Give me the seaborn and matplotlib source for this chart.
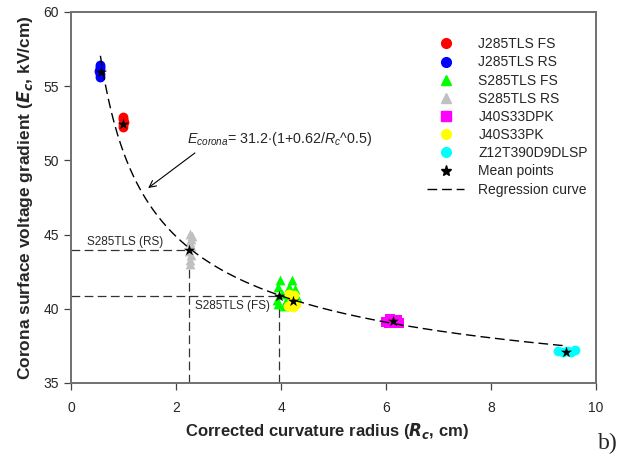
import numpy as np
import pandas as pd
import matplotlib
matplotlib.use("Agg")
import matplotlib.pyplot as plt
from matplotlib.lines import Line2D
import seaborn as sns

# Measured corona inception gradients per conductor sample
blue_x = [0.55, 0.56, 0.54, 0.55, 0.56, 0.55]
blue_y = [55.65, 55.85, 56.0, 56.15, 56.3, 56.45]
red_x = [0.99, 0.99, 1.00, 0.99, 0.99]
red_y = [52.25, 52.42, 52.6, 52.78, 52.95]
grey_x = [2.27, 2.26, 2.28, 2.25, 2.29, 2.27, 2.28, 2.30, 2.27]
grey_y = [43.0, 43.3, 43.6, 43.9, 44.2, 44.5, 44.7, 44.9, 45.05]
green_x = [3.98, 4.21, 3.95, 4.02, 3.92, 3.95, 4.15, 4.27, 4.10, 4.30, 4.05]
green_y = [41.95, 41.95, 41.5, 41.0, 40.6, 40.3, 41.5, 41.3, 40.5, 40.8, 40.2]
magenta_x = [6.00, 6.08, 6.14, 6.24, 6.20, 6.05]
magenta_y = [39.10, 39.30, 39.20, 39.05, 39.22, 39.02]
yellow_x = [4.15, 4.25, 4.20, 4.28, 4.13, 4.22]
yellow_y = [41.00, 40.90, 40.50, 40.30, 40.20, 40.10]
cyan_x = [9.28, 9.37, 9.45, 9.52, 9.60]
cyan_y = [37.15, 37.10, 37.18, 37.10, 37.20]

series_names = ["J285TLS FS", "J285TLS RS", "S285TLS FS", "S285TLS RS",
                "J40S33DPK", "J40S33PK", "Z12T390D9DLSP"]
series_colors = ["#ff0000", "#0000ff", "#00ff00", "#c0c0c0",
                 "#ff00ff", "#ffff00", "#00ffff"]
series_markers = ["o", "o", "^", "^", "s", "o", "o"]

# Mean point of each sample group
mean_x = [0.57, 0.99, 2.25, 3.96, 4.23, 6.13, 9.43]
mean_y = [55.95, 52.45, 43.95, 40.85, 40.50, 39.18, 37.10]

# Regression: E = a * (1 + b / Rc^0.5)
reg_a = 31.2
reg_b = 0.62
reg_range = (0.56, 9.40)

x_ticks = [0, 2, 4, 6, 8, 10]
y_ticks = [35, 40, 45, 50, 55, 60]

rows = []
for name, xs, ys in zip(
        series_names,
        [red_x, blue_x, green_x, grey_x, magenta_x, yellow_x, cyan_x],
        [red_y, blue_y, green_y, grey_y, magenta_y, yellow_y, cyan_y]):
    for xv, yv in zip(xs, ys):
        rows.append({"Rc": xv, "Ec": yv, "series": name})
df = pd.DataFrame(rows)
means = pd.DataFrame({"Rc": mean_x, "Ec": mean_y})
rc = np.linspace(reg_range[0], reg_range[1], 300)
reg = pd.DataFrame({"Rc": rc, "Ec": reg_a * (1 + reg_b / rc ** 0.5)})

sns.set_theme(style="white")
plt.rcParams["font.family"] = ["Liberation Sans", "DejaVu Sans"]
plt.rcParams["mathtext.fontset"] = "custom"
plt.rcParams["mathtext.rm"] = "Liberation Sans"
plt.rcParams["mathtext.it"] = "Liberation Sans:italic"
plt.rcParams["mathtext.bf"] = "Liberation Sans:bold"

fig = plt.figure(figsize=(6.25, 4.58), dpi=100)
ax = fig.add_axes([0.1136, 0.1638, 0.84, 0.81])

# Guide lines for S285TLS samples
guide = dict(color="#333333", lw=0.9, dashes=(7, 3.5), zorder=1)
ax.plot([0, mean_x[2]], [mean_y[2], mean_y[2]], **guide)
ax.plot([mean_x[2], mean_x[2]], [35, mean_y[2]], **guide)
ax.plot([0, mean_x[3]], [mean_y[3], mean_y[3]], **guide)
ax.plot([mean_x[3], mean_x[3]], [35, mean_y[3]], **guide)

order = ["Z12T390D9DLSP", "J40S33DPK", "S285TLS RS", "S285TLS FS",
         "J40S33PK", "J285TLS FS", "J285TLS RS"]
for name in order:
    i = series_names.index(name)
    sub = df[df["series"] == name]
    sns.scatterplot(data=sub, x="Rc", y="Ec", ax=ax, color=series_colors[i],
                    marker=series_markers[i], s=50, linewidth=0,
                    legend=False, zorder=2)

sns.lineplot(data=reg, x="Rc", y="Ec", ax=ax, color="black", lw=1.0,
             dashes=False, zorder=3)
ax.lines[-1].set_dashes((7, 3.5))

sns.scatterplot(data=means, x="Rc", y="Ec", ax=ax, color="black",
                marker="*", s=70, linewidth=0, legend=False, zorder=4)

ax.set_xlim(0, 10)
ax.set_ylim(35, 60)
ax.set_xticks(x_ticks)
ax.set_yticks(y_ticks)
ax.tick_params(axis="both", direction="out", length=5, width=0.9,
               color="#444444", labelsize=10, left=True, bottom=True)
ax.tick_params(axis="x", pad=8)
ax.tick_params(axis="y", pad=3.5)
for sp in ax.spines.values():
    sp.set_color("#707070")
    sp.set_linewidth(1.4)

ax.set_xlabel(r"Corrected curvature radius ($\mathbfit{R_c}$, cm)",
              fontsize=12, fontweight="bold")
ax.xaxis.set_label_coords(0.487, -0.103)
ax.set_ylabel(r"Corona surface voltage gradient ($\mathbfit{E_c}$, kV/cm)",
              fontsize=12.5, fontweight="bold", labelpad=6)

ax.text(2.21, 51.17, r"$E_{corona}$= 31.2$\cdot$(1+0.62/$R_c$^0.5)",
        fontsize=10.3, ha="left", va="baseline")
ax.annotate("", xy=(1.47, 48.14), xytext=(2.36, 50.5),
            arrowprops=dict(arrowstyle="->", color="black", lw=0.8,
                            shrinkA=0, shrinkB=0))

ax.text(0.3, 44.3, "S285TLS (RS)", fontsize=8.5, ha="left", va="baseline")
ax.text(2.36, 40.6, "S285TLS (FS)", fontsize=8.5, ha="left", va="top")

handles = []
for name, c, m in zip(series_names, series_colors, series_markers):
    handles.append(Line2D([], [], ls="none", marker=m, color=c,
                          markersize=7, label=name))
handles.append(Line2D([], [], ls="none", marker="*", color="black",
                      markersize=8, label="Mean points"))
handles.append(Line2D([], [], color="black", lw=1.0, dashes=(7, 3.5),
                      label="Regression curve"))
ax.legend(handles=handles, loc="upper left", bbox_to_anchor=(0.678, 0.932),
          frameon=False, fontsize=10, handlelength=2.7, handletextpad=1.0,
          labelspacing=0.3, borderpad=0, borderaxespad=0)

fig.text(0.957, 0.02, "b)", fontsize=17, family="Liberation Serif",
         ha="left", va="baseline")

fig.savefig("out.png", dpi=100)
